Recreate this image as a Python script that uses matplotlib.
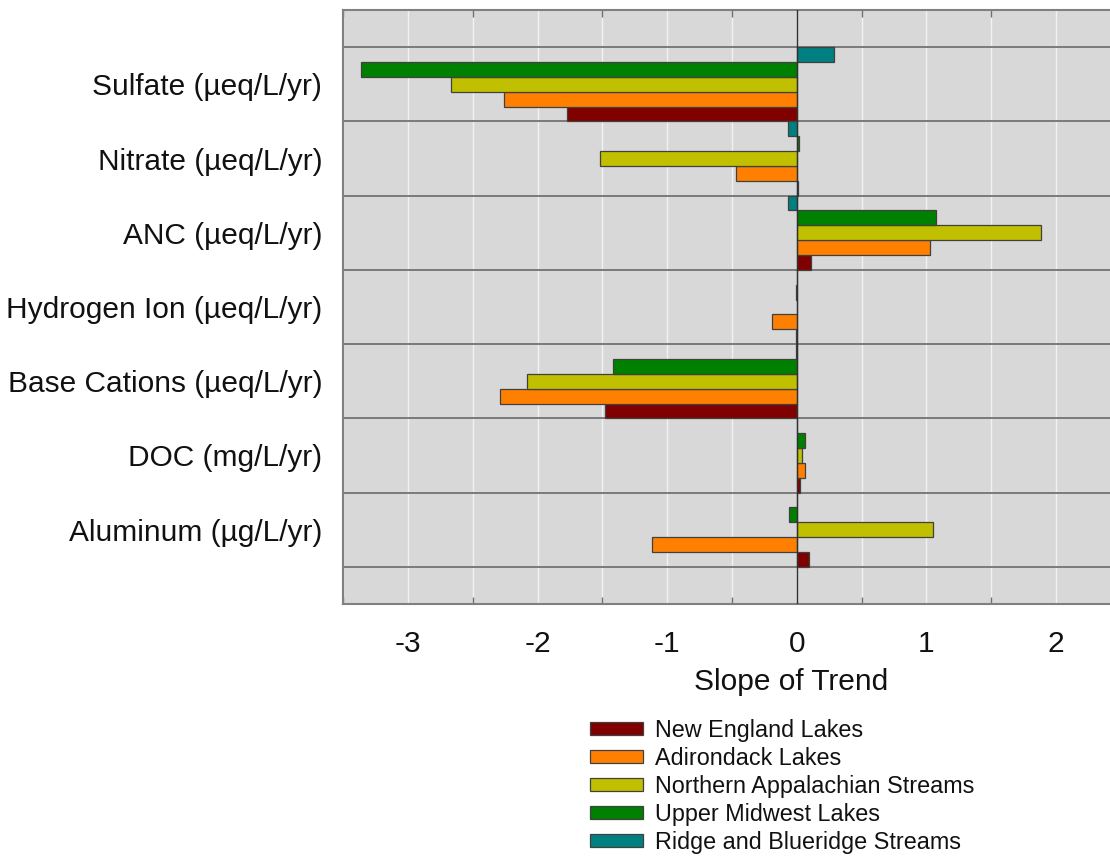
import numpy as np
import matplotlib
matplotlib.use("Agg")
import matplotlib.pyplot as plt
from matplotlib.patches import Patch

plt.rcParams['font.family'] = ['Liberation Sans', 'DejaVu Sans']

categories = ["Sulfate (µeq/L/yr)", "Nitrate (µeq/L/yr)", "ANC (µeq/L/yr)",
              "Hydrogen Ion (µeq/L/yr)", "Base Cations (µeq/L/yr)",
              "DOC (mg/L/yr)", "Aluminum (µg/L/yr)"]

series_names = ["New England Lakes", "Adirondack Lakes",
                "Northern Appalachian Streams", "Upper Midwest Lakes",
                "Ridge and Blueridge Streams"]
series_colors = ["#800000", "#FF8000", "#C0C000", "#008000", "#008080"]

new_england = [-1.77, 0.01, 0.11, -0.005, -1.48, 0.025, 0.09]
adirondack = [-2.26, -0.47, 1.03, -0.19, -2.29, 0.06, -1.12]
northern_app = [-2.67, -1.52, 1.88, 0.0, -2.08, 0.04, 1.05]
upper_midwest = [-3.36, 0.02, 1.07, -0.01, -1.42, 0.06, -0.06]
ridge_blueridge = [0.29, -0.07, -0.07, 0.005, -0.005, 0.0, 0.0]

series_values = [new_england, adirondack, northern_app, upper_midwest, ridge_blueridge]

x_ticks = [-3, -2, -1, 0, 1, 2]

W, H = 1110, 856
fig = plt.figure(figsize=(W / 100, H / 100), dpi=100)
ax = fig.add_axes([343 / W, 1 - 604 / H, (1121 - 343) / W, (604 - 10) / H])
ax.set_facecolor("#D8D8D8")

n_cat = len(categories)
idx = np.arange(n_cat)
bar_h = 0.2
n_ser = len(series_names)
# top-to-bottom within a band: Ridge, Upper Midwest, N. Appalachian, Adirondack, New England
for s, (vals, col) in enumerate(zip(series_values, series_colors)):
    k = n_ser - 1 - s
    ypos = idx - 0.5 + bar_h * (k + 0.5)
    ax.barh(ypos, vals, height=bar_h, color=col, edgecolor="#404040",
            linewidth=0.9, zorder=3)

ax.set_ylim(n_cat, -1)
ax.set_xlim(-3.5, 2.5)

for b in np.arange(-0.5, n_cat, 1.0):
    ax.axhline(b, color="#7a7a7a", lw=1.4, zorder=2)
ax.axvline(0, color="#303030", lw=1.0, zorder=4)

ax.set_yticks(idx)
ax.set_yticklabels(categories, fontsize=21.5, color="#111111")
ax.tick_params(axis='y', length=0, pad=15)

ax.set_xticks(x_ticks)
ax.set_xticklabels([str(t) for t in x_ticks], fontsize=21.5, color="#111111")
ax.set_xticks(np.arange(-3.5, 2.51, 0.5), minor=True)
ax.tick_params(axis='x', which='major', length=0, pad=19)
ax.tick_params(axis='x', which='minor', direction='in', length=5, width=1,
               color="#707070", top=True, bottom=True)
ax.grid(True, axis='x', which='both', color="#f2f2f2", lw=1.0)
ax.grid(False, axis='y')
ax.set_axisbelow(True)

for side in ['left', 'top', 'bottom']:
    ax.spines[side].set_color("#808080")
    ax.spines[side].set_linewidth(1.5)
ax.spines['right'].set_visible(False)

fig.text(791 / W, 1 - 690 / H, "Slope of Trend", fontsize=21.5, ha='center',
         va='baseline', color="#111111")

handles = [Patch(facecolor=c, edgecolor="#404040", linewidth=0.9) for c in series_colors]
leg = fig.legend(handles, series_names, loc='upper left',
                 bbox_to_anchor=(590 / W, 1 - 719 / H), frameon=False,
                 fontsize=16.8, handlelength=2.25, handleheight=0.5,
                 handletextpad=0.55, labelspacing=0.21, borderpad=0,
                 borderaxespad=0)
for t in leg.get_texts():
    t.set_color("#111111")

fig.savefig("out.png", dpi=100)
